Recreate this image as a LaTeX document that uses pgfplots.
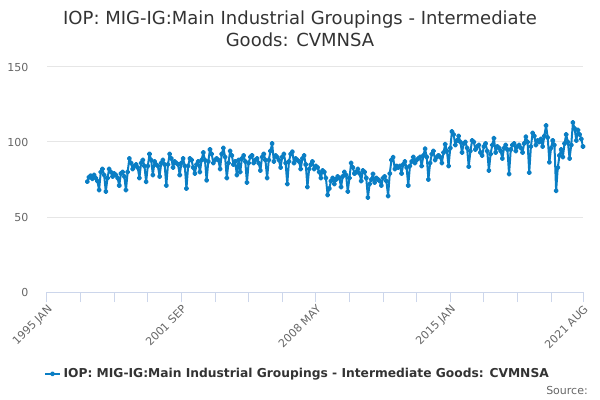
\documentclass[border=0pt]{standalone}
\usepackage{pgfplots}
\pgfplotsset{compat=1.18}
\usepackage{fontspec}
\setmainfont{DejaVu Sans}
\definecolor{series}{RGB}{10,126,196}
\definecolor{titlecol}{RGB}{51,51,51}
\definecolor{tickcol}{RGB}{102,102,102}
\definecolor{gridcol}{RGB}{230,230,230}
\definecolor{axiscol}{RGB}{204,214,235}
\begin{document}
\begin{tikzpicture}
\path[use as bounding box] (0,0) rectangle (450pt,300pt);
\node[align=center,text=titlecol,font=\fontsize{13.5}{16.5}\selectfont] at (225pt,278.25pt)
  {IOP: MIG-IG:Main Industrial Groupings - Intermediate\\Goods: CVMNSA};
\node[anchor=east,text=tickcol,font=\fontsize{8.25}{10}\selectfont,inner sep=0pt] at (441pt,7.5pt) {Source:};
\begin{axis}[
  at={(35.25pt,81pt)}, anchor=south west,
  scale only axis, width=402pt, height=168.75pt,
  xmin=0, xmax=319, ymin=0, ymax=150,
  axis x line*=bottom, axis y line*=left,
  x axis line style={draw=axiscol,-},
  y axis line style={draw=none},
  ytick={0,50,100,150},
  ymajorgrids, grid style={draw=gridcol,line width=0.75pt},
  y tick style={draw=none},
  xtick={0,80,160,240,319},
  minor xtick={20,40,60,100,120,140,180,200,220,260,280,300},
  xticklabels={1995 JAN,2001 SEP,2008 MAY,2015 JAN,2021 AUG},
  x tick style={draw=axiscol,line width=0.75pt},
  tick align=outside, major tick length=7.5pt, minor tick length=7.5pt,
  xticklabel style={rotate=45,anchor=north east,inner sep=1pt},
  ticklabel style={text=tickcol,font=\fontsize{8.25}{10}\selectfont},
  yticklabel style={xshift=-3pt},
  /pgf/number format/assume math mode=true,
  legend style={at={(0.468,-0.364)},anchor=center,draw=none,fill=none,
    font=\bfseries\fontsize{9.2}{11}\selectfont,text=titlecol},
  legend image code/.code={
    \draw[#1,mark=none] (0pt,0pt) -- (11pt,0pt);
    \draw[#1,only marks] plot coordinates {(5.5pt,0pt)};
  },
]
\addplot[color=series,line width=1.5pt,mark=*,mark size=1.2pt,line join=round]
  table[x expr=\coordindex+24, y index=0, header=false, row sep=\\] {
73.6\\76.5\\77.5\\75.5\\78\\76\\74\\68\\80\\82\\78\\67\\
76\\82\\80\\77\\79\\78\\76\\71\\79\\80\\77\\68\\
80\\89\\86\\82\\84\\85\\83\\76\\86\\88\\84\\73.5\\
84\\92\\88\\78\\87\\85\\84\\77\\86\\88\\85\\71\\
85\\92\\89\\83\\87\\86\\85\\78\\86\\89\\84\\69\\
84\\89\\88\\83\\79\\85\\87\\80\\88\\93\\88\\74.5\\
87\\95\\92\\86\\88\\89\\88\\82\\92\\96\\90\\76\\
86\\94\\91\\85\\87\\78\\88\\80\\89\\91\\87\\73\\
86\\90\\91\\86\\88\\89\\86\\81\\90\\92\\88\\76\\
88\\94\\99\\87\\91\\90\\88\\83\\90\\92\\86\\72\\
87\\92\\93.5\\86\\89\\88\\87\\82\\89\\91\\85\\70\\
82\\85\\87\\82\\84\\83\\80\\76\\81\\80\\76\\64.7\\
69\\74\\76\\72\\75\\77\\76\\70\\77\\80\\78\\67\\
76\\86\\83\\79\\80\\82\\79\\74\\81\\80\\76\\63\\
72\\75\\78.7\\73\\76\\75\\74\\71\\76\\77\\74\\64\\
79\\88\\89.8\\82\\84\\83\\84\\79\\85\\87\\83\\71\\
84\\87\\90\\86\\88\\89\\90\\84\\91\\95.5\\90\\75\\
86\\92\\94\\88\\90\\91\\90\\86\\93\\98.5\\94\\84\\
96\\107\\105\\98\\101\\104\\100\\93\\99\\100\\96\\83.6\\
94\\101\\100\\95\\97\\98\\93\\91\\97\\99\\94\\81\\
92\\98\\102.5\\93\\97\\96\\94\\89\\96\\98\\95\\78.7\\
95\\98\\99\\94\\97\\98\\96\\93\\99\\103.5\\100\\79.6\\
97\\106\\104\\98\\101\\100\\102\\97\\104\\111\\103\\86.5\\
96\\101\\98\\67.5\\83\\91\\95\\90\\99\\105\\100\\89\\
98\\113\\109\\101\\108\\105\\102\\97\\
};
\addlegendentry{IOP: MIG-IG:Main Industrial Groupings - Intermediate Goods: CVMNSA}
\end{axis}
\end{tikzpicture}
\end{document}
